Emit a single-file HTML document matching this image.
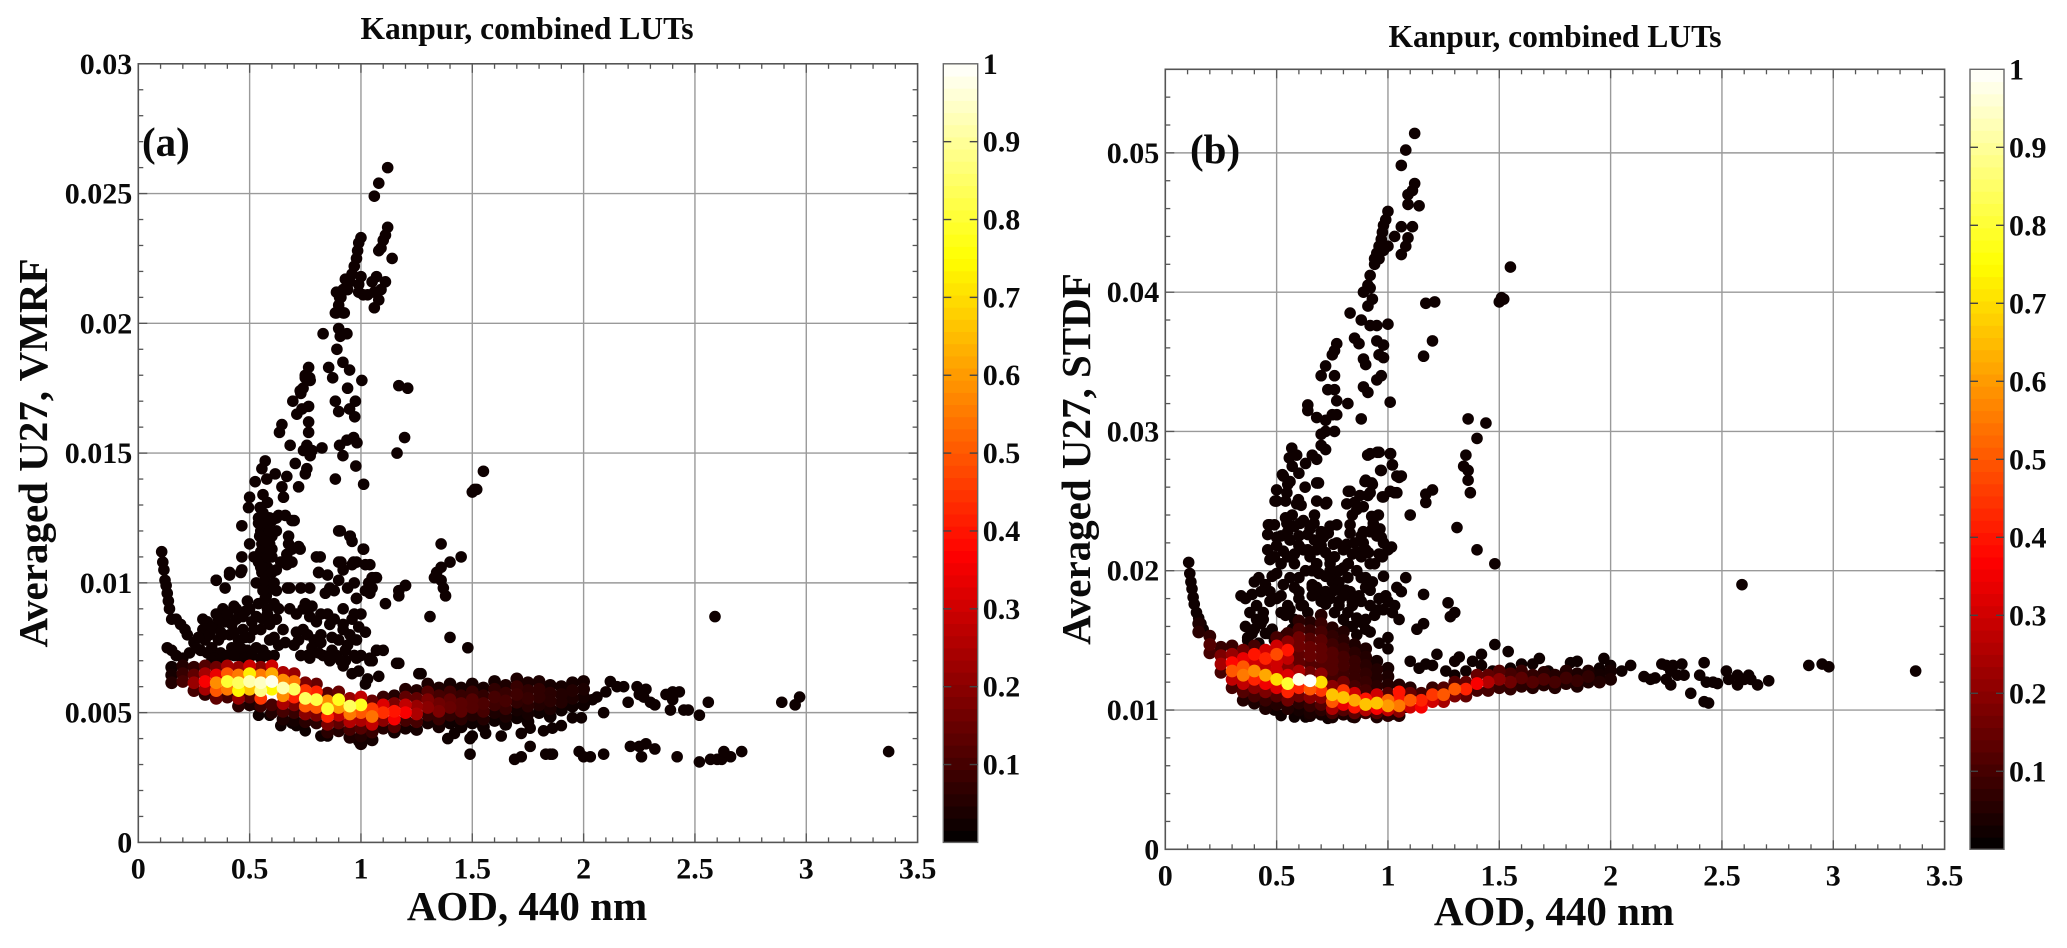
<!DOCTYPE html>
<html lang="en">
<head>
<meta charset="utf-8">
<title>Kanpur, combined LUTs</title>
<style>
html,body{margin:0;padding:0;background:#fff;}
svg{display:block;}
text{font-family:"Liberation Serif",serif;font-weight:bold;fill:#0a0a0a;}
</style>
</head>
<body>
<svg id="fig" xmlns="http://www.w3.org/2000/svg" width="2067" height="948" viewBox="0 0 2067 948">
<rect width="2067" height="948" fill="#fff"/>
<text x="527" y="39" font-size="31.5" text-anchor="middle">Kanpur, combined LUTs</text>
<text x="1555" y="47" font-size="31.5" text-anchor="middle">Kanpur, combined LUTs</text>
<text x="527" y="920" font-size="41" text-anchor="middle">AOD, 440 nm</text>
<text x="1554" y="925" font-size="41" text-anchor="middle">AOD, 440 nm</text>
<text transform="translate(47,453) rotate(-90)" font-size="41" text-anchor="middle">Averaged U27, VMRF</text>
<text transform="translate(1090,459) rotate(-90)" font-size="41" text-anchor="middle">Averaged U27, STDF</text>
<g id="panelA"></g>
<g id="panelB"></g>
<text x="142" y="156" font-size="41">(a)</text>
<text x="1190" y="163" font-size="41">(b)</text>
</svg>
<script>
const xTicks=[0,0.5,1,1.5,2,2.5,3,3.5];
const xTickLabels=["0","0.5","1","1.5","2","2.5","3","3.5"];
const yTicksA=[0,0.005,0.01,0.015,0.02,0.025,0.03];
const yTickLabelsA=["0","0.005","0.01","0.015","0.02","0.025","0.03"];
const yTicksB=[0,0.01,0.02,0.03,0.04,0.05];
const yTickLabelsB=["0","0.01","0.02","0.03","0.04","0.05"];
const cbTicks=[0.1,0.2,0.3,0.4,0.5,0.6,0.7,0.8,0.9,1];
const cbTickLabels=["0.1","0.2","0.3","0.4","0.5","0.6","0.7","0.8","0.9","1"];
const darkDensity=0.02;

const scatterXA=[
.105,.11,.115,.12,.125,.13,.135,.14,.15,.17,.19,.21,.22,.25,.13,.15,.17,.2,.23,.26,
.29,.29,.30,.31,.32,.33,.35,.35,.35,.36,.37,.38,.39,.39,.41,.41,.42,.43,.44,.45,
.45,.46,.47,.48,.49,.49,.50,.51,.52,.53,.54,.55,.56,.57,.58,.58,.59,.59,.60,.60,
.55,.56,.57,.58,.59,.60,.61,.62,.62,.63,.61,.62,.64,.65,.66,.67,.68,.69,.70,.71,
.68,.69,.70,.71,.72,.73,.74,.75,.76,.77,.77,.78,.79,.80,.81,.82,.83,.84,.85,.86,
.87,.88,.89,.90,.90,.91,.92,.93,.94,.95,.95,.96,.97,.98,.98,.99,1.0,1.01,1.02,1.04,
1.05,1.05,1.07,.96,.97,.92,.93,.86,.87,.82,.57,.555,.525,.577,.615,.50,.495,.56,.645,.652,
.72,.667,.705,.75,.757,.547,.54,.63,.585,.69,.465,.555,.62,.675,.50,.555,.465,.6,.675,.727,
.667,.817,.907,.952,1.012,.90,.967,1.02,.667,.81,.92,.35,.41,.465,.56,1.065,1.035,1.2,.56,.575,
.54,.59,.545,.55,.57,.54,.555,.57,.575,.58,.765,.75,.772,.727,.694,.765,.735,.712,.765,.645,
.634,.765,.682,.757,.825,.742,.78,.772,.83,.90,.907,.937,.892,.919,.855,.949,.873,1.004,.94,.885,
.975,.9,.949,.972,.904,.937,.967,.982,.919,.977,.885,1.012,1.17,1.21,1.196,1.162,.885,.925,.907,.904,
1.12,1.08,1.06,1.12,1.11,1.10,1.09,1.08,1.14,1.11,1.09,1.08,1.06,1.06,1.07,1.05,1.03,1.01,.99,1.0,
.99,1.0,.99,.985,.98,.97,.96,.95,.94,.93,.92,.91,.90,.89,.89,.92,.75,.77,.74,.73,
1.5,1.51,1.52,1.55,1.36,1.45,1.40,1.34,1.36,1.33,1.36,1.37,1.38,1.31,1.4,1.48,1.20,1.17,1.17,1.11,
1.07,1.05,1.04,1.02,.98,.98,1.04,2.59,1.07,1.16,1.49,1.69,1.72,1.76,1.83,1.85,1.86,1.98,2.0,2.03,
2.09,2.21,2.25,2.28,2.26,2.32,2.42,2.52,2.57,2.6,2.62,2.63,2.66,2.71,3.37,2.89,2.95,2.97,2.56,2.52,
2.47,2.45,2.43,2.40,2.37,2.39,2.40,2.32,2.30,2.28,2.24,2.25,2.27,2.20,2.15,2.12,2.18,2.10,2.06,2.04,
2.09,1.99,1.95,1.9,1.86,1.82,1.76,1.72,1.63,1.56,1.5,1.49,1.42,1.39,1.26,.45,.53,.54,.59,.61,
.64,.69,.71,.75,.82,.85,.99,1.02,1.04,1.05,1.1,1.27,1.17,1.08,1.03,.99,.97,.92,.96,
.28,.31,.33,.34,.36,.37,.38,.40,.40,.42,.43,.44,.46,.47,.48,.50,.51,.52,.53,.55,
.56,.57,.59,.61,.63,.66,.27,.33,.38,.43,.48,.53,.58,.56,.57,.58,.59,.60,.55,.61,.58,.57,.59,.60,.62,
.72,.74,.76,.78,.8,.82,.85,.88,.9,.92,.94,.96,.98,1.0,.73,.77,.81,.86,.91,.97
];
const scatterYA=[
.0112,.0108,.0105,.0101,.0099,.0096,.0093,.0090,.0086,.0086,.0084,.0082,.0080,.0077,.0075,.0074,.0072,.0071,.0073,.0075,
.0086,.0082,.0078,.0085,.0080,.0075,.0101,.0088,.0083,.0078,.0073,.0090,.0085,.0098,.0103,.0080,.0075,.0091,.0086,.0078,
.0072,.0104,.0082,.0089,.0074,.0093,.0079,.0085,.0110,.0100,.0092,.0082,.0074,.0099,.0106,.0088,.0125,.0078,.0118,.0098,
.0120,.0113,.0125,.0131,.0104,.0110,.0092,.0125,.0086,.0076,.0072,.0097,.0108,.0082,.0126,.0098,.0090,.0113,.0124,.0081,
.0098,.0108,.0076,.0088,.0114,.0098,.0082,.0092,.0072,.0087,.0098,.0091,.0078,.0110,.0104,.0088,.0072,.0096,.0103,.0084,
.0079,.0097,.0072,.0120,.0101,.0108,.0084,.0074,.0098,.0118,.0080,.0107,.0088,.0071,.0094,.0083,.0072,.0113,.0081,.0071,
.0102,.0070,.0074,.0116,.0100,.0082,.0070,.0098,.0074,.0080,.0147,.0144,.0139,.0140,.0142,.0133,.0129,.0134,.0137,.0133,
.0137,.0141,.0146,.0142,.0144,.0129,.0125,.0126,.0125,.0124,.0122,.0119,.0120,.0118,.0115,.0115,.0110,.0113,.0115,.0113,
.0111,.0110,.0120,.0118,.0113,.0108,.0108,.0107,.0107,.0104,.0105,.0101,.0104,.0105,.0106,.0102,.0100,.0099,.0127,.0122,
.0123,.0115,.0118,.0112,.0110,.0108,.0104,.0100,.0095,.0090,.0183,.0180,.0178,.0174,.0170,.0168,.0167,.0165,.0162,.0161,
.0158,.0158,.0153,.0153,.0152,.0151,.0151,.0149,.0196,.0198,.0195,.0196,.0190,.0185,.0183,.0182,.0179,.0178,.0175,.0170,
.0170,.0166,.0167,.0164,.0153,.0155,.0156,.0154,.0149,.0145,.0140,.0138,.0176,.0175,.0156,.0150,.0204,.0204,.0212,.0210,
.0260,.0254,.0249,.0237,.0234,.0232,.0229,.0228,.0225,.0216,.0213,.0209,.0206,.0212,.0218,.0216,.0211,.0211,.0212,.0218,
.0215,.0233,.0231,.0228,.0225,.0222,.0219,.0216,.0213,.0217,.0213,.0210,.0207,.0212,.0204,.0204,.0179,.0179,.0175,.0173,
.0135,.0136,.0136,.0143,.0115,.0110,.0108,.0104,.0106,.0102,.0101,.0098,.0095,.0087,.0079,.0075,.0099,.0097,.0095,.0092,
.0102,.0098,.0096,.0097,.0094,.0108,.0107,.0087,.0074,.0069,.0034,.0032,.0033,.0037,.0034,.0034,.0034,.0035,.0033,.0033,
.0034,.0037,.0037,.0038,.0033,.0036,.0033,.0031,.0032,.0032,.0032,.0035,.0033,.0035,.0035,.0054,.0053,.0056,.0054,.0049,
.0051,.0051,.0058,.0058,.0057,.0051,.0055,.0053,.0054,.0059,.0060,.0057,.0056,.0054,.0060,.0062,.0060,.0058,.0056,.0055,
.0050,.0048,.0048,.0045,.0044,.0043,.0044,.0042,.0041,.0042,.0041,.0040,.0042,.0040,.0065,.0053,.0053,.0049,.0049,.0051,
.0045,.0046,.0045,.0043,.0041,.0041,.0039,.0061,.0070,.0070,.0074,.0065,.0069,.0064,.0063,.0066,.0072,.0068,.0065,
.0074,.0073,.0083,.0071,.0086,.0081,.0071,.0088,.0072,.0084,.0072,.0090,.0075,.0087,.0071,.0090,.0072,.0082,.0087,.0071,
.0086,.0094,.0084,.0079,.0090,.0077,.0079,.0070,.0080,.0081,.0079,.0075,.0072,.0097,.0101,.0110,.0113,.0104,.0106,.0100,.0118,.0116,.0120,.0124,.0105,
.0078,.0090,.0080,.0075,.0085,.0077,.0088,.0086,.0078,.0090,.0076,.0086,.0078,.0088,.0072,.0071,.0073,.0070,.0070,.0072
];

const bandColumnsA=[.15,.20,.25,.30,.35,.40,.45,.50,.55,.60,.65,.70,.75,.80,.85,.90,.95,1.0,1.05,1.1,1.15,1.2,1.25,1.3,1.35,1.4,1.45,1.5,1.55,1.6,1.65,1.7,1.75,1.8,1.85,1.9,1.95,2.0];
const bandColumnCountsA=[3,3,4,5,5,5,6,6,6,6,7,7,6,6,6,6,6,7,6,5,6,6,6,6,6,6,6,6,6,6,6,6,6,5,5,4,4,4];
const bandYA=[
.00675,.00645,.00615,.0068,.0065,.0062,.00675,.00645,.00615,.00585,.0068,.0065,.0062,.0059,.0057,
.00675,.00645,.00615,.00585,.00555,.0068,.0065,.0062,.0059,.0056,.00675,.00645,.00615,.00585,.00555,.00525,
.0068,.0065,.0062,.0059,.0056,.0053,.00675,.00645,.00615,.00585,.00555,.00525,.0068,.0065,.0062,.0059,.0053,.0050,
.00655,.00625,.00595,.00565,.00535,.00505,.00475,.0065,.0062,.0059,.0056,.0053,.0050,.0047,
.00615,.00585,.00555,.00525,.00495,.00465,.0061,.0058,.0055,.0052,.0049,.0046,.00575,.00545,.00515,.00485,.00455,.00425,
.0058,.0055,.0052,.0049,.0046,.0043,.00555,.00525,.00495,.00465,.00435,.00405,.0056,.0053,.0050,.0047,.0044,.0041,.0038,
.00545,.00515,.00485,.00455,.00425,.00395,.0056,.0053,.0050,.0047,.0044,.00565,.00535,.00505,.00475,.00445,.00425,
.0059,.0056,.0053,.0050,.0047,.0044,.00585,.00555,.00525,.00495,.00465,.00435,.0061,.0058,.0055,.0052,.0049,.0046,
.00595,.00565,.00535,.00505,.00475,.00445,.0061,.0058,.0055,.0052,.0049,.0046,.00595,.00565,.00535,.00505,.00475,.00445,
.0061,.0058,.0055,.0052,.0049,.0046,.00595,.00565,.00535,.00505,.00475,.00445,.0062,.0059,.0056,.0053,.0050,.0047,
.00605,.00575,.00545,.00515,.00485,.00455,.0063,.0060,.0057,.0054,.0051,.0048,.00615,.00585,.00555,.00525,.00495,.00465,
.0062,.0059,.0056,.0053,.0050,.00605,.00575,.00545,.00515,.00485,.0060,.0057,.0054,.0051,.00615,.00585,.00555,.00525,.0062,.0059,.0056,.0053
];
const bandDA=[
.02,.03,.05,.05,.08,.10,.07,.14,.22,.10,.12,.24,.36,.24,.06,
.16,.34,.58,.50,.14,.24,.50,.80,.55,.10,.22,.55,.84,.74,.22,.06,
.30,.72,.92,.66,.12,.04,.20,.55,.94,.88,.45,.08,.30,.62,.98,.74,.10,.05,
.25,.58,.92,.58,.25,.10,.04,.22,.55,.84,.42,.18,.08,.03,
.18,.45,.84,.50,.20,.06,.15,.42,.82,.50,.18,.06,.12,.58,.80,.42,.18,.06,
.15,.78,.60,.28,.14,.05,.22,.84,.55,.26,.10,.04,.28,.78,.50,.25,.12,.05,.03,
.15,.46,.54,.28,.08,.03,.08,.32,.44,.20,.05,.05,.18,.40,.36,.12,.03,
.05,.14,.28,.36,.10,.03,.05,.14,.22,.25,.10,.03,.04,.12,.18,.20,.08,.03,
.04,.10,.16,.18,.08,.03,.03,.09,.14,.15,.07,.02,.03,.08,.13,.13,.06,.02,
.03,.08,.12,.12,.05,.02,.03,.07,.11,.10,.05,.02,.03,.07,.10,.09,.04,.02,
.04,.08,.10,.08,.04,.02,.04,.08,.09,.07,.03,.02,.04,.07,.08,.06,.03,.02,
.04,.07,.07,.05,.02,.03,.06,.06,.04,.02,.03,.05,.05,.02,.03,.05,.04,.02,.03,.04,.03,.02
];

const scatterXB=[
.105,.11,.115,.12,.125,.13,.14,.15,.16,.17,1.12,1.08,1.06,1.12,1.11,1.09,1.09,1.14,1.11,1.06,
1.09,1.08,1.06,1.03,1.0,.98,.96,.94,1.0,.99,.98,.975,.97,.96,.95,.94,.92,.91,.92,.89,
.93,.91,.83,.88,.92,.95,1.0,.85,.87,.95,.98,.89,.96,.98,.90,.97,.95,.82,1.01,.91,
.89,.88,1.17,1.21,1.2,1.16,1.5,1.51,1.52,1.55,1.36,1.44,1.40,1.35,1.34,1.36,1.36,1.37,1.31,1.40,
1.48,1.01,.92,.96,1.02,.97,.90,.93,1.06,1.04,1.01,1.04,1.2,1.17,1.17,.98,.91,.83,.85,.84,
1.1,.77,.76,.75,.72,.70,.76,.73,.76,.77,.64,.64,.75,.68,.72,.77,.76,.72,.70,.70,
.72,.68,.66,.568,.557,.59,.57,.63,.60,.53,.55,.68,.50,.50,.54,.59,.61,.68,.72,.67,
.49,.47,.54,.57,.526,.56,.688,.628,.493,.546,.598,.725,.463,.50,.546,.605,.77,.668,.822,.815,
.86,.897,.927,.874,.92,.889,.975,1.03,1.05,1.02,.967,.909,.952,1.012,.83,.83,.927,.957,.934,.964,
.889,.92,.732,.71,.755,.815,.889,.97,1.016,.912,.975,.867,.74,.822,.52,.55,.58,.60,.65,.67,
.70,.74,.77,.80,.85,.88,.90,.93,.95,.98,1.0,.82,.46,.47,.49,.52,.55,.58,.62,.65,
.68,.72,.75,.78,.83,.88,.92,.34,.39,.40,.42,.38,.36,.41,.44,.47,.50,.53,.55,.58,
.60,.63,.66,.69,.72,.75,.78,.81,.84,.87,.90,.93,.96,.99,1.02,.52,.56,.60,.64,.68,
.72,.76,.80,.84,.88,.92,.96,1.0,.44,.48,.37,.40,.43,.46,.49,.52,.36,.42,.45,.47,
.54,.57,.61,.66,.70,.74,.78,.82,.86,.90,1.08,1.04,1.06,1.16,1.0,1.03,1.05,1.16,1.13,1.27,
1.28,1.30,1.48,1.54,1.42,1.38,1.3,1.32,1.22,1.17,1.2,1.1,1.14,1.26,1.3,1.35,1.42,1.47,1.55,1.6,
1.65,1.68,1.72,1.82,1.85,1.9,1.97,2.0,2.05,2.09,1.95,2.15,2.2,2.18,2.23,2.25,2.28,2.32,2.27,2.3,
2.25,2.27,2.33,2.36,2.42,2.4,2.43,2.46,2.48,2.42,2.44,2.52,2.53,2.57,2.57,2.6,2.62,2.63,2.66,2.71,
2.89,2.95,2.98,3.37,2.59,.52,.58,.63,.64,.73,.75,.84,.86,.90,.47,.49,1.02,1.05,1.08,1.0,
.46,.48,.5,.53,.56,.58,.6,.62,.64,.66,.68,.7,.72,.74,.76,.78,.8,.82,.84,.86,.88,.9,.92,.94,.96,.98,
.56,.6,.64,.68,.72,.76,.8,.84,.88,.92,.96,.5,.54,.58,.62,.66,.7,.74,.78,.82,.86,.9,.94,.98,.45,.43,.41,.39,.37
];
const scatterYB=[
.0206,.0198,.0192,.0187,.0181,.0176,.0170,.0166,.0162,.0158,.0514,.0502,.0491,.0478,.0473,.0470,.0463,.0462,.0447,.0447,
.0439,.0433,.0427,.0440,.0433,.0430,.0424,.0420,.0458,.0452,.0448,.0443,.0438,.0433,.0428,.0424,.0412,.0405,.0403,.0400,
.0395,.0390,.0385,.0380,.0376,.0376,.0377,.0367,.0363,.0365,.0362,.0352,.0355,.0353,.0348,.0340,.0337,.0320,.0321,.0328,
.0332,.0309,.0392,.0393,.0365,.0354,.0393,.0396,.0395,.0418,.0309,.0306,.0295,.0283,.0275,.0272,.0265,.0256,.0231,.0215,
.0205,.0284,.0284,.0285,.0276,.0272,.0265,.0262,.0268,.0268,.0257,.0256,.0258,.0255,.0249,.0253,.0254,.0257,.0249,.0240,
.0240,.0363,.0358,.0355,.0347,.0340,.0340,.0330,.0330,.0322,.0319,.0315,.0312,.0310,.0308,.0312,.0300,.0300,.0298,.0290,
.0287,.0280,.0283,.0288,.0281,.0283,.0275,.0277,.0270,.0268,.0262,.0263,.0258,.0250,.0250,.0248,.0247,.0250,.0248,.0240,
.0233,.0233,.0238,.0240,.0269,.0264,.0263,.0260,.0250,.0256,.0251,.0249,.0233,.0224,.0234,.0234,.0233,.0234,.0257,.0248,
.0244,.0264,.0263,.0254,.0256,.0246,.0253,.0256,.0267,.0276,.0272,.0283,.0285,.0284,.0233,.0227,.0239,.0240,.0234,.0230,
.0228,.0228,.0227,.0224,.0219,.0219,.0220,.0224,.0217,.0213,.0210,.0213,.0209,.0205,.0225,.0228,.0232,.0225,.0230,.0222,
.0228,.0232,.0220,.0215,.0220,.0225,.0215,.0230,.0225,.0220,.0215,.0205,.0215,.0208,.0210,.0205,.0210,.0212,.0215,.0210,
.0205,.0213,.0195,.0200,.0185,.0195,.0205,.0182,.0183,.0192,.0195,.0170,.0160,.0175,.0170,.0185,.0198,.0190,.0175,.0165,
.0195,.0200,.0190,.0198,.0185,.0192,.0178,.0186,.0175,.0182,.0188,.0192,.0172,.0182,.0170,.0182,.0172,.0180,.0170,.0205,
.0176,.0170,.0165,.0160,.0163,.0156,.0148,.0152,.0165,.0158,.0152,.0158,.0162,.0155,.0150,.0170,.0180,.0148,.0155,.0178,
.0154,.0158,.0175,.0188,.0182,.0200,.0192,.0160,.0154,.0158,.0195,.0188,.0185,.0183,.0178,.0175,.0165,.0162,.0158,.0177,
.0167,.0170,.0147,.0142,.0140,.0135,.0135,.0138,.0140,.0133,.0132,.0135,.0130,.0128,.0125,.0128,.0132,.0128,.0130,.0133,
.0133,.0137,.0128,.0134,.0135,.0127,.0137,.0132,.0128,.0132,.0130,.0124,.0123,.0122,.0133,.0132,.0132,.0133,.0128,.0125,
.0122,.0118,.0125,.0112,.0134,.0125,.0120,.0120,.0119,.0106,.0105,.0128,.0122,.0125,.0118,.0122,.0125,.0122,.0118,.0121,
.0132,.0133,.0131,.0128,.0190,.0096,.0095,.0095,.0097,.0094,.0095,.0095,.0097,.0099,.0103,.0100,.0097,.0098,.0102,.0144,
.0226,.0196,.0218,.0214,.0222,.0205,.0218,.0236,.0226,.0200,.0215,.0218,.0196,.0205,.0210,.0186,.0202,.0195,.0212,.0200,.0210,.0195,.0186,.0205,.0212,.0196,
.0195,.0185,.0215,.0188,.0185,.0186,.0182,.0178,.0178,.0175,.0180,.0180,.0168,.0188,.0175,.0182,.0178,.0180,.0175,.0170,.0166,.0165,.0168,.0172,.0190,.0185,.0165,.0155,.0150
];

const bandColumnsB=[.15,.20,.25,.30,.35,.40,.45,.50,.55,.60,.65,.70,.75,.80,.85,.90,.95,1.0,1.05,1.1,1.15,1.2,1.25,1.3,1.35,1.4,1.45,1.5,1.55,1.6,1.65,1.7,1.75,1.8,1.85,1.9,1.95,2.0];
const bandColumnCountsB=[2,3,4,6,7,8,8,9,10,12,13,14,13,12,11,10,9,8,6,4,3,3,3,3,3,3,3,3,3,3,3,3,3,3,3,3,2,2];
const bandYB=[
.0162,.0156,.0153,.0147,.0141,.0145,.0139,.0133,.0127,.0146,.0140,.0134,.0128,.0122,.0116,
.0143,.0137,.0131,.0125,.0119,.0113,.0107,.0146,.0140,.0134,.0128,.0122,.0116,.0110,.0105,
.0143,.0137,.0131,.0125,.0119,.0113,.0107,.0101,.0152,.0146,.0140,.0134,.0128,.0122,.0116,.0110,.0104,
.0155,.0149,.0143,.0137,.0131,.0125,.0119,.0113,.0107,.0101,.0164,.0158,.0152,.0146,.0140,.0134,.0128,.0122,.0116,.0110,.0105,.0100,
.0163,.0157,.0151,.0145,.0139,.0133,.0127,.0121,.0115,.0109,.0103,.0098,.0096,.0168,.0162,.0156,.0150,.0144,.0138,.0132,.0126,.0120,.0114,.0109,.0104,.0100,.0097,
.0159,.0153,.0147,.0141,.0135,.0129,.0123,.0117,.0111,.0106,.0101,.0098,.0095,.0156,.0150,.0144,.0138,.0132,.0126,.0120,.0114,.0109,.0104,.0100,.0097,
.0147,.0141,.0135,.0129,.0123,.0117,.0112,.0107,.0102,.0098,.0095,.0144,.0138,.0132,.0126,.0120,.0114,.0108,.0104,.0100,.0098,
.0135,.0129,.0123,.0117,.0111,.0105,.0101,.0098,.0095,.0130,.0124,.0118,.0112,.0107,.0103,.0100,.0096,.0118,.0113,.0108,.0103,.0099,.0096,
.0116,.0112,.0107,.0102,.0112,.0107,.0102,.0116,.0111,.0106,.0116,.0111,.0106,.0120,.0115,.0110,.0120,.0115,.0110,.0125,.0119,.0114,
.0125,.0120,.0114,.0128,.0122,.0116,.0126,.0120,.0115,.0128,.0123,.0117,.0125,.0120,.0116,.0127,.0122,.0118,.0125,.0120,.0116,
.0128,.0123,.0119,.0126,.0121,.0117,.0128,.0124,.0120,.0125,.0120,.0128,.0122
];
const bandDB=[
.04,.06,.07,.12,.10,.08,.18,.24,.10,.08,.22,.38,.50,.28,.10,
.16,.34,.50,.55,.28,.12,.05,.10,.40,.30,.58,.42,.20,.10,.04,
.30,.42,.28,.62,.35,.18,.08,.04,.10,.30,.48,.30,.30,.70,.32,.12,.05,
.08,.20,.40,.28,.20,.32,.80,.42,.16,.05,.06,.10,.16,.16,.14,.14,.25,.98,.42,.16,.06,.03,
.05,.08,.12,.15,.15,.12,.16,1.0,.50,.20,.08,.04,.03,.05,.08,.10,.13,.14,.14,.12,.20,.70,.45,.20,.12,.06,.03,
.05,.07,.09,.12,.12,.12,.10,.20,.66,.50,.25,.10,.03,.05,.06,.08,.10,.10,.09,.16,.45,.66,.34,.12,.04,
.04,.06,.08,.08,.08,.10,.30,.62,.40,.14,.04,.04,.05,.06,.07,.08,.10,.40,.66,.26,.08,
.03,.05,.05,.06,.30,.66,.36,.12,.04,.03,.04,.05,.12,.52,.60,.28,.06,.05,.40,.40,.55,.20,.05,
.05,.15,.50,.30,.10,.42,.36,.08,.45,.30,.12,.50,.24,.12,.50,.18,.14,.42,.14,.15,.36,.10,
.14,.26,.10,.12,.20,.08,.10,.16,.07,.08,.13,.06,.07,.12,.05,.06,.11,.05,.05,.10,.05,
.05,.09,.05,.04,.08,.04,.04,.07,.04,.03,.05,.03,.04
];

const SVGNS='http://www.w3.org/2000/svg';
function hot(v){
  const r=Math.min(1,Math.max(0,v/0.37));
  const g=Math.min(1,Math.max(0,(v-0.37)/0.38));
  const b=Math.min(1,Math.max(0,(v-0.75)/0.25));
  return 'rgb('+Math.round(r*255)+','+Math.round(g*255)+','+Math.round(b*255)+')';
}
function make(tag,parent){
  const el=document.createElementNS(SVGNS,tag);
  parent.appendChild(el);
  return el;
}
function drawLine(parent,x1,y1,x2,y2,color,width,name){
  const l=make('line',parent);
  l.setAttribute('x1',x1);
  l.setAttribute('y1',y1);
  l.setAttribute('x2',x2);
  l.setAttribute('y2',y2);
  l.setAttribute('stroke',color);
  l.setAttribute('stroke-width',width);
  
  
  return l;
}
function drawText(parent,x,y,str,anchor,name){
  const t=make('text',parent);
  t.setAttribute('x',x);
  t.setAttribute('y',y);
  t.setAttribute('font-size','30');
  t.setAttribute('text-anchor',anchor);
  t.textContent=str;
  
  
  return t;
}
function expandColumns(columns,counts){
  const out=[];
  columns.forEach(function(v,i){
    for(let k=0;k<counts[i];k++){out.push(v);}
  });
  return out;
}
function drawPanel(g,box,yMax,yTicks,yLabels,yMinorStep,sx,sy,bx,by,bd,cb){
  const L=box.left,R=box.right,T=box.top,B=box.bottom;
  const X=v=>L+v/3.5*(R-L);
  const Y=v=>B-v/yMax*(B-T);
  const C=v=>B-v*(B-T);

  xTicks.forEach(function(v,i){
    if(i>0&&i<xTicks.length-1){
      drawLine(g,X(v),T,X(v),B,'#9a9a9a',1.4,'x-gridline');
    }
    drawText(g,X(v),B+36,xTickLabels[i],'middle','x-tick-label');
  });
  yTicks.forEach(function(v,i){
    if(i>0&&v<yMax){
      drawLine(g,L,Y(v),R,Y(v),'#9a9a9a',1.4,'y-gridline');
    }
    drawText(g,L-6,Y(v)+10,yLabels[i],'end','y-tick-label');
  });

  for(let i=1;i<35;i++){
    const v=i/10;
    const len=(i%5===0)?9:5;
    drawLine(g,X(v),B,X(v),B-len,'#555',1.3,'x-tick');
    drawLine(g,X(v),T,X(v),T+len,'#555',1.3,'x-tick-top');
  }
  const nY=Math.round(yMax/yMinorStep);
  for(let i=1;i<nY;i++){
    const v=i*yMinorStep;
    const len=(i%5===0)?9:5;
    drawLine(g,L,Y(v),L+len,Y(v),'#555',1.3,'y-tick');
    drawLine(g,R,Y(v),R-len,Y(v),'#555',1.3,'y-tick-right');
  }

  sx.forEach(function(v,i){
    const c=make('circle',g);
    c.setAttribute('cx',X(v));
    c.setAttribute('cy',Y(sy[i]));
    c.setAttribute('r',5.8);
    c.setAttribute('fill',hot(darkDensity));
    
    
  });
  const order=bx.map(function(_,i){return i;}).sort(function(a,b){return bd[a]-bd[b];});
  order.forEach(function(i){
    const c=make('circle',g);
    c.setAttribute('cx',X(bx[i]));
    c.setAttribute('cy',Y(by[i]));
    c.setAttribute('r',6.4);
    c.setAttribute('fill',hot(bd[i]));
    
    
  });

  const frame=make('rect',g);
  frame.setAttribute('x',L);
  frame.setAttribute('y',T);
  frame.setAttribute('width',R-L);
  frame.setAttribute('height',B-T);
  frame.setAttribute('fill','none');
  frame.setAttribute('stroke','#555');
  frame.setAttribute('stroke-width','1.6');
  
  

  const levels=64;
  for(let i=0;i<levels;i++){
    const lo=i/levels,hi=(i+1)/levels;
    const s=make('rect',g);
    s.setAttribute('x',cb.left);
    s.setAttribute('y',C(hi));
    s.setAttribute('width',cb.right-cb.left);
    s.setAttribute('height',C(lo)-C(hi)+0.6);
    s.setAttribute('fill',hot((lo+hi)/2));
    
    
  }
  const cf=make('rect',g);
  cf.setAttribute('x',cb.left);
  cf.setAttribute('y',T);
  cf.setAttribute('width',cb.right-cb.left);
  cf.setAttribute('height',B-T);
  cf.setAttribute('fill','none');
  cf.setAttribute('stroke','#666');
  cf.setAttribute('stroke-width','1.4');
  
  
  cbTicks.forEach(function(v,i){
    if(v<1){
      drawLine(g,cb.left,C(v),cb.left+8,C(v),'#444',1.4,'colorbar-tick');
      drawLine(g,cb.right,C(v),cb.right-8,C(v),'#444',1.4,'colorbar-tick');
    }
    drawText(g,cb.right+5,C(v)+10,cbTickLabels[i],'start','colorbar-tick-label');
  });
}
drawPanel(document.getElementById('panelA'),{left:138.3,right:917.6,top:63.8,bottom:842.4},0.03,yTicksA,yTickLabelsA,0.001,scatterXA,scatterYA,expandColumns(bandColumnsA,bandColumnCountsA),bandYA,bandDA,{left:943.3,right:977.7});
drawPanel(document.getElementById('panelB'),{left:1165.3,right:1944.6,top:69.3,bottom:849.3},0.056,yTicksB,yTickLabelsB,0.002,scatterXB,scatterYB,expandColumns(bandColumnsB,bandColumnCountsB),bandYB,bandDB,{left:1970,right:2004});
</script>
</body>
</html>
